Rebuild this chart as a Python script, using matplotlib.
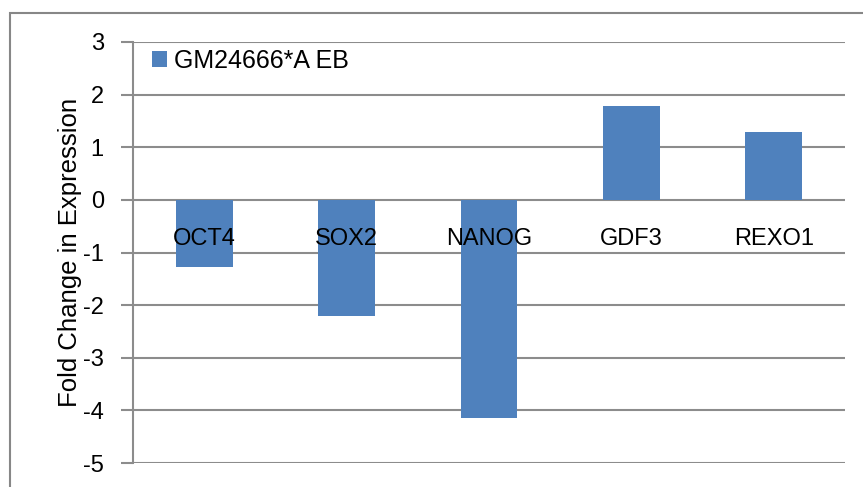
import matplotlib.pyplot as plt
from matplotlib.patches import Rectangle

genes = ["OCT4", "SOX2", "NANOG", "GDF3", "REXO1"]
fold_change = [-1.27, -2.2, -4.14, 1.79, 1.29]
series_name = "GM24666*A EB"
y_ticks = [3, 2, 1, 0, -1, -2, -3, -4, -5]

plt.rcParams['font.family'] = ['Liberation Sans', 'DejaVu Sans']

fig = plt.figure(figsize=(8.63, 4.87), dpi=100)
W, H = 863, 487
ax = fig.add_axes([133 / W, 1 - 463 / H, (845 - 133) / W, (463 - 42) / H])

# outer chart border
fig.patches.append(Rectangle((10 / W, -0.1), 1.2, 1 - 13 / H + 0.1, transform=fig.transFigure,
                             fill=False, edgecolor="#878787", linewidth=1.5))

x = list(range(len(genes)))
ax.bar(x, fold_change, width=0.4, color="#4F81BD", label=series_name, zorder=3)

ax.set_xlim(-0.5, len(genes) - 0.5)
ax.set_ylim(-5, 3)
ax.set_yticks(y_ticks)
ax.set_yticklabels([str(v) for v in y_ticks], fontsize=17)
ax.yaxis.grid(True, color="#8c8c8c", linewidth=1.5, zorder=0)
ax.set_axisbelow(True)

for s in ["top", "right", "bottom"]:
    ax.spines[s].set_visible(False)
ax.spines["left"].set_color("#8c8c8c")
ax.spines["left"].set_linewidth(1.5)
ax.tick_params(axis="y", color="#8c8c8c", width=1.5, length=9, pad=12)
ax.set_xticks([])

# category labels sit just under the zero line
for xi, g in zip(x, genes):
    ax.text(xi, -0.86, g, ha="center", va="baseline", fontsize=17, zorder=4)

ax.set_ylabel("Fold Change in Expression", fontsize=18.5, labelpad=1)

ax.legend(loc="upper left", bbox_to_anchor=(0.005, 1.02), frameon=False, fontsize=18,
          handlelength=0.6, handleheight=0.6, handletextpad=0.3, borderaxespad=0.2)

fig.savefig("out.png", dpi=100)
